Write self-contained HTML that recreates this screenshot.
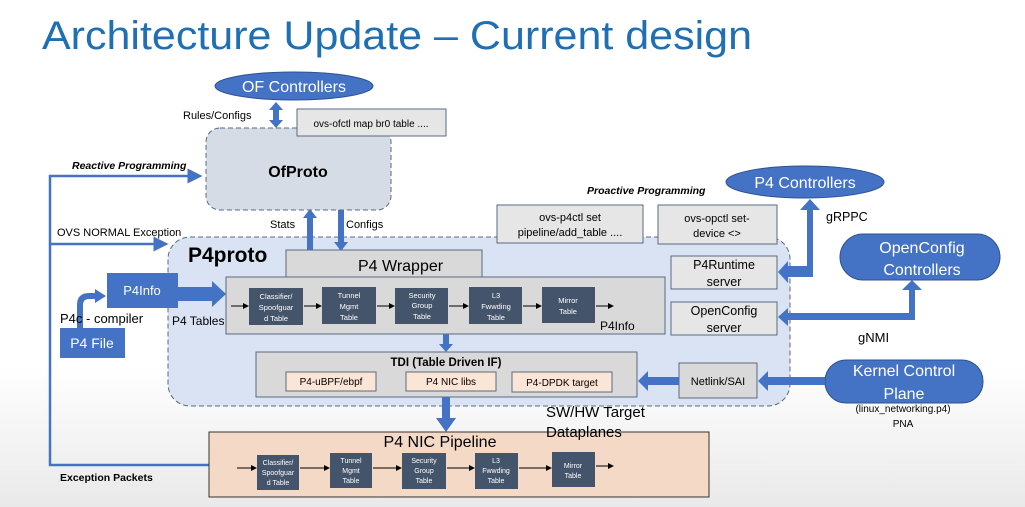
<!DOCTYPE html>
<html><head><meta charset="utf-8"><style>
html,body{margin:0;padding:0;}
body{width:1025px;height:507px;overflow:hidden;background:linear-gradient(#fff 0,#fff 72%,#e9e9e9 100%);}
svg{display:block;font-family:"Liberation Sans",sans-serif;}
</style></head><body>
<svg width="1025" height="507" viewBox="0 0 1025 507">
<defs>
<marker id="a" markerWidth="6" markerHeight="6" refX="5" refY="3" orient="auto"><path d="M0,0 L6,3 L0,6z" fill="#000"/></marker>
<marker id="b" markerWidth="6" markerHeight="6" refX="5" refY="3" orient="auto"><path d="M0,0 L6,3 L0,6z" fill="#4472c4"/></marker>
</defs>
<text x="42" y="49" font-size="40" fill="#1f6fb4" textLength="710" lengthAdjust="spacingAndGlyphs">Architecture Update – Current design</text>

<!-- left feedback lines -->
<polyline points="209,465 50,465 50,176 200,176" fill="none" stroke="#4472c4" stroke-width="2.5" marker-end="url(#b)"/>
<line x1="50" y1="244" x2="166" y2="244" stroke="#4472c4" stroke-width="2.5" marker-end="url(#b)"/>
<text x="72" y="169" font-size="10.5" font-weight="bold" font-style="italic">Reactive Programming</text>
<text x="57" y="236" font-size="11">OVS NORMAL Exception</text>
<text x="60" y="481" font-size="10.5" font-weight="bold">Exception Packets</text>

<!-- OF controllers -->
<ellipse cx="294" cy="86" rx="79" ry="14" fill="#4472c4" stroke="#2f528f"/>
<text x="294" y="92" font-size="16" fill="#fff" text-anchor="middle">OF Controllers</text>
<path d="M276,102 L283,110 L279,110 L279,120 L283,120 L276,128 L269,120 L273,120 L273,110 L269,110z" fill="#4472c4"/>
<text x="183" y="119" font-size="11">Rules/Configs</text>

<!-- OfProto -->
<rect x="206" y="128" width="185" height="82" rx="14" fill="#d6dce5" stroke="#596a80" stroke-dasharray="5,3"/>
<text x="298" y="177" font-size="16" font-weight="bold" text-anchor="middle">OfProto</text>
<rect x="297" y="109" width="149" height="27" fill="#e7e6e6" stroke="#596a80"/>
<text x="371" y="127" font-size="10" text-anchor="middle">ovs-ofctl map br0 table ....</text>

<!-- P4proto region -->
<rect x="168" y="237" width="622" height="169" rx="22" fill="#dae3f3" stroke="#596a80" stroke-dasharray="5,3"/>
<text x="188" y="262" font-size="21" font-weight="bold">P4proto</text>
<text x="270" y="228" font-size="11">Stats</text>
<text x="346" y="228" font-size="11">Configs</text>
<path d="M307,250 L307,218 L303,218 L310,209 L317,218 L313,218 L313,250z" fill="#4472c4"/>
<path d="M338,210 L344,210 L344,242 L348,242 L341,251 L334,242 L338,242z" fill="#4472c4"/>

<rect x="497" y="205" width="146" height="38" fill="#e7e6e6" stroke="#596a80"/>
<text x="570" y="221" font-size="11" text-anchor="middle">ovs-p4ctl set</text>
<text x="570" y="236" font-size="11" text-anchor="middle">pipeline/add_table ....</text>
<rect x="658" y="205" width="119" height="39" fill="#e7e6e6" stroke="#596a80"/>
<text x="717" y="222" font-size="11" text-anchor="middle">ovs-opctl set-</text>
<text x="717" y="237" font-size="11" text-anchor="middle">device &lt;&gt;</text>
<text x="587" y="194" font-size="10.5" font-weight="bold" font-style="italic">Proactive Programming</text>

<rect x="286" y="250" width="196" height="28" fill="#d9d9d9" stroke="#596a80"/>
<text x="358" y="271" font-size="16">P4 Wrapper</text>
<rect x="226" y="277" width="439" height="57" fill="#d9d9d9" stroke="#596a80"/>
<g font-size="7.5" fill="#fff" text-anchor="middle">
<rect x="249" y="288" width="54" height="37" fill="#44546a"/><text x="276" y="299">Classifier/</text><text x="276" y="310">Spoofguar</text><text x="276" y="321">d Table</text>
<rect x="322" y="287" width="54" height="37" fill="#44546a"/><text x="349" y="298">Tunnel</text><text x="349" y="309">Mgmt</text><text x="349" y="320">Table</text>
<rect x="395" y="288" width="53" height="36" fill="#44546a"/><text x="422" y="298">Security</text><text x="422" y="308">Group</text><text x="422" y="319">Table</text>
<rect x="469" y="287" width="53" height="37" fill="#44546a"/><text x="496" y="298">L3</text><text x="496" y="309">Fwwding</text><text x="496" y="320">Table</text>
<rect x="542" y="287" width="53" height="36" fill="#44546a"/><text x="568" y="303">Mirror</text><text x="568" y="314">Table</text>
</g>
<g stroke="#000" stroke-width="1" marker-end="url(#a)">
<line x1="231" y1="306" x2="248" y2="306"/><line x1="304" y1="306" x2="321" y2="306"/><line x1="377" y1="306" x2="394" y2="306"/><line x1="449" y1="306" x2="468" y2="306"/><line x1="523" y1="306" x2="541" y2="306"/><line x1="596" y1="306" x2="613" y2="306"/>
</g>
<text x="600" y="330" font-size="12">P4Info</text>
<text x="172" y="325" font-size="12">P4 Tables</text>

<!-- P4Info/P4File -->
<rect x="107" y="273" width="71" height="35" fill="#4472c4"/>
<text x="142" y="295" font-size="13" fill="#fff" text-anchor="middle">P4Info</text>
<path d="M178,287 L212,287 L212,281 L226,294 L212,307 L212,301 L178,301z" fill="#4472c4"/>
<path d="M77,328 L77,305 Q77,293 89,293 L95,293 L95,289 L106,296 L95,303 L95,299 L89,299 Q83,299 83,305 L83,328z" fill="#4472c4"/>
<text x="60" y="323" font-size="13">P4c - compiler</text>
<rect x="60" y="328" width="65" height="30" fill="#4472c4"/>
<text x="92" y="348" font-size="14" fill="#fff" text-anchor="middle">P4 File</text>

<!-- TDI -->
<path d="M443,334 L449,334 L449,344 L453,344 L446,352 L439,344 L443,344z" fill="#4472c4"/>
<rect x="256" y="352" width="381" height="45" fill="#d9d9d9" stroke="#596a80"/>
<text x="446" y="366" font-size="11.5" font-weight="bold" text-anchor="middle">TDI (Table Driven IF)</text>
<rect x="286" y="372" width="90" height="19" fill="#fbe5d6" stroke="#596a80"/><text x="331" y="385" font-size="10" text-anchor="middle">P4-uBPF/ebpf</text>
<rect x="406" y="372" width="90" height="19" fill="#fbe5d6" stroke="#596a80"/><text x="451" y="385" font-size="10" text-anchor="middle">P4 NIC libs</text>
<rect x="512" y="372" width="100" height="20" fill="#fbe5d6" stroke="#596a80"/><text x="562" y="386" font-size="10" text-anchor="middle">P4-DPDK target</text>
<path d="M442,397 L450,397 L450,418 L456,418 L446,432 L436,418 L442,418z" fill="#4472c4"/>

<!-- Pipeline -->
<rect x="209" y="432" width="500" height="65" fill="#f4d9c6" stroke="#333"/>
<text x="440" y="447" font-size="16" text-anchor="middle">P4 NIC Pipeline</text>
<text x="546" y="417" font-size="15">SW/HW Target</text>
<text x="546" y="437" font-size="15">Dataplanes</text>
<g font-size="7" fill="#fff" text-anchor="middle">
<rect x="257" y="455" width="42" height="35" fill="#44546a"/><text x="278" y="465">Classifier/</text><text x="278" y="475">Spoofguar</text><text x="278" y="485">d Table</text>
<rect x="330" y="453" width="42" height="35" fill="#44546a"/><text x="351" y="463">Tunnel</text><text x="351" y="473">Mgmt</text><text x="351" y="483">Table</text>
<rect x="402" y="453" width="44" height="36" fill="#44546a"/><text x="424" y="463">Security</text><text x="424" y="473">Group</text><text x="424" y="483">Table</text>
<rect x="475" y="453" width="43" height="36" fill="#44546a"/><text x="496" y="463">L3</text><text x="496" y="473">Fwwding</text><text x="496" y="483">Table</text>
<rect x="552" y="452" width="43" height="35" fill="#44546a"/><text x="573" y="468">Mirror</text><text x="573" y="478">Table</text>
</g>
<g stroke="#000" stroke-width="1" marker-end="url(#a)">
<line x1="237" y1="468" x2="256" y2="468"/><line x1="300" y1="468" x2="329" y2="468"/><line x1="373" y1="468" x2="401" y2="468"/><line x1="447" y1="468" x2="474" y2="468"/><line x1="519" y1="468" x2="551" y2="468"/><line x1="596" y1="466" x2="613" y2="466"/>
</g>

<!-- right side -->
<rect x="671" y="256" width="106" height="33" fill="#e7e6e6" stroke="#596a80"/>
<text x="724" y="269" font-size="12.5" text-anchor="middle">P4Runtime</text><text x="724" y="286" font-size="12.5" text-anchor="middle">server</text>
<rect x="671" y="302" width="106" height="33" fill="#e7e6e6" stroke="#596a80"/>
<text x="724" y="315" font-size="12.5" text-anchor="middle">OpenConfig</text><text x="724" y="332" font-size="12.5" text-anchor="middle">server</text>
<rect x="679" y="363" width="78" height="35" fill="#d9d9d9" stroke="#596a80"/>
<text x="718" y="385" font-size="11" text-anchor="middle">Netlink/SAI</text>

<ellipse cx="805" cy="182" rx="79" ry="16" fill="#4472c4" stroke="#2f528f"/>
<text x="805" y="188" font-size="16" fill="#fff" text-anchor="middle">P4 Controllers</text>
<rect x="840" y="234" width="160" height="46" rx="23" fill="#4472c4" stroke="#2f528f"/>
<text x="922" y="253" font-size="16" fill="#fff" text-anchor="middle">OpenConfig</text>
<text x="922" y="275" font-size="16" fill="#fff" text-anchor="middle">Controllers</text>
<rect x="825" y="360" width="158" height="43" rx="21" fill="#4472c4" stroke="#2f528f"/>
<text x="904" y="376" font-size="16" fill="#fff" text-anchor="middle">Kernel Control</text>
<text x="904" y="399" font-size="16" fill="#fff" text-anchor="middle">Plane</text>
<text x="903" y="412" font-size="10" text-anchor="middle">(linux_networking.p4)</text>
<text x="903" y="427" font-size="10" text-anchor="middle">PNA</text>
<text x="826" y="221" font-size="12.5">gRPPC</text>
<text x="858" y="342" font-size="13">gNMI</text>

<path d="M788,266 L807,266 L807,210 L800,210 L810,199 L820,210 L813,210 L813,277 L788,277 L788,283 L778,272 L788,261z" fill="#4472c4"/>
<path d="M788,313 L909,313 L909,290 L902,290 L912,280 L922,290 L915,290 L915,320 L788,320 L788,326 L778,317 L788,308z" fill="#4472c4"/>
<path d="M825,377 L768,377 L768,371 L758,381 L768,391 L768,385 L825,385z" fill="#4472c4"/>
<path d="M679,377 L648,377 L648,371 L638,381 L648,391 L648,385 L679,385z" fill="#4472c4"/>
</svg>
</body></html>
